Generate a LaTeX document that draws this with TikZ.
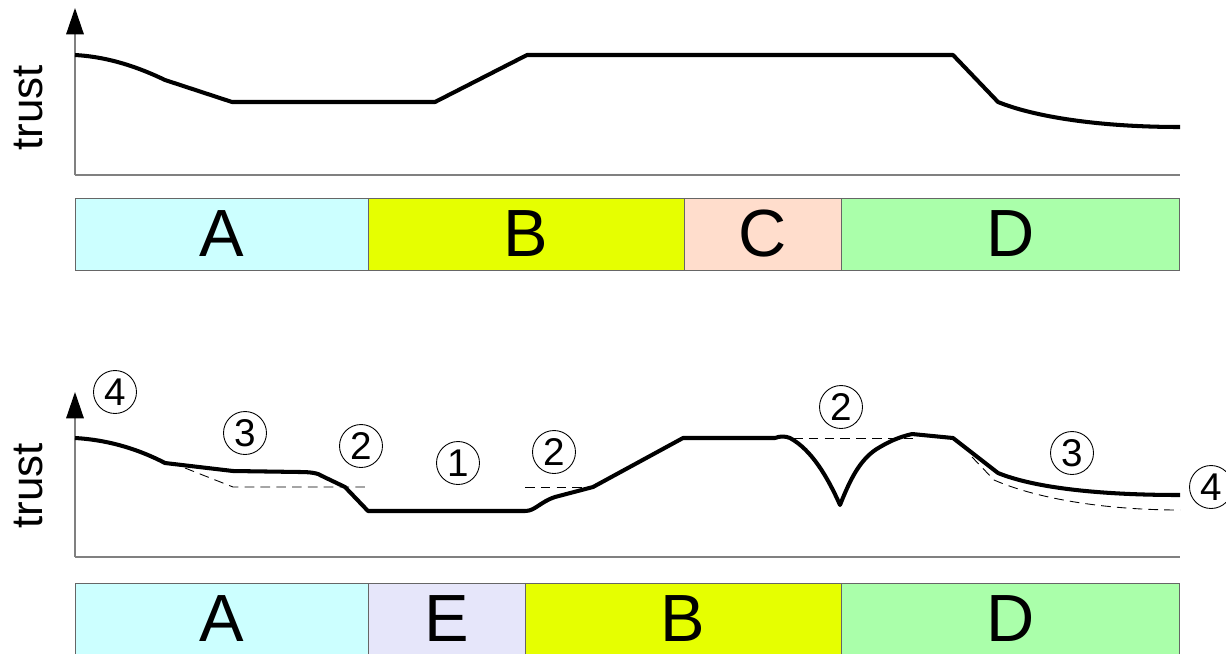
\documentclass[tikz,border=0pt]{standalone}
\usepackage{fontspec}
\setmainfont{Liberation Sans}
\usetikzlibrary{arrows.meta,positioning}
\definecolor{segA}{RGB}{204,255,255}
\definecolor{segB}{RGB}{230,255,0}
\definecolor{segC}{RGB}{255,221,204}
\definecolor{segD}{RGB}{170,255,170}
\definecolor{segE}{RGB}{230,230,250}

\begin{document}
\begin{tikzpicture}[x=0.02cm, y=-0.02cm]

% styles
\tikzset{
  seg/.style={rectangle, draw=black!60, minimum height=1.44cm, inner sep=0pt, outer sep=0pt, font=\fontsize{38}{40}\selectfont},
  yaxis/.style={draw=black!50, line width=0.8pt, -{Triangle[length=15pt, width=10pt, color=black]}},
  xaxis/.style={draw=black!50, line width=0.8pt},
  curve/.style={line width=2.3pt, line join=round},
  guide/.style={line width=0.5pt, dash pattern=on 5.5pt off 3.5pt},
  num/.style={circle, draw, line width=0.5pt, minimum size=0.86cm, inner sep=0pt, font=\fontsize{22}{24}\selectfont},
  ylab/.style={rotate=90, font=\fontsize{25}{28}\selectfont}
}

\useasboundingbox (0,0) rectangle (1226,653);

%==========================
% upper chart
%==========================
\coordinate (o1) at (75,175);
\coordinate (tip1) at (75,8);
\coordinate (end1) at (1180,175);
\draw[xaxis] (o1) -- (end1);
\draw[yaxis] (o1) -- (tip1);
\node[ylab] (trust1) at (29,108) {trust};

\draw[curve] (75,55) .. controls (110,57) and (140,68) .. (165,80) -- (232,102) -- (435,102)
  -- (527,55) -- (953,55) -- (998,102) .. controls (1035,117) and (1100,127) .. (1180,127);

\node[seg, fill=segA, minimum width=5.86cm, anchor=north west] (topA) at (75,198) {A};
\node[seg, fill=segB, minimum width=6.32cm, right=0pt of topA] (topB) {B};
\node[seg, fill=segC, minimum width=3.14cm, right=0pt of topB] (topC) {C};
\node[seg, fill=segD, minimum width=6.78cm, right=0pt of topC] (topD) {D};

%==========================
% lower chart
%==========================
\coordinate (o2) at (75,557);
\coordinate (tip2) at (75,392);
\coordinate (end2) at (1180,557);
\draw[xaxis] (o2) -- (end2);
\draw[yaxis] (o2) -- (tip2);
\node[ylab] (trust2) at (29,486) {trust};

% dashed reference lines
\draw[guide] (185,468) -- (233,487) -- (367,487);
\draw[guide] (525,487) -- (593,487);
\draw[guide] (793,438) -- (913,438);
\draw[guide] (972,457) -- (994,480) .. controls (1040,500) and (1110,510) .. (1180,510);

\draw[curve] (75,438) .. controls (110,440) and (140,450) .. (165,463) -- (233,471) -- (300,472)
  .. controls (310,472) and (318,473) .. (322,476) -- (345,487) -- (368,511) -- (525,511)
  .. controls (535,511) and (540,502) .. (555,497) -- (593,487) -- (683,438) -- (775,438)
  .. controls (780,436) and (785,436) .. (790,438)
  .. controls (812,450) and (828,478) .. (840,505)
  .. controls (850,480) and (860,458) .. (880,447)
  .. controls (892,440) and (900,437) .. (912,434) -- (953,438) -- (998,473)
  .. controls (1035,488) and (1100,495) .. (1180,495);

\node[num] (n4a) at (115,392) {4};
\node[num] (n3a) at (245,433) {3};
\node[num] (n2a) at (361,446) {2};
\node[num] (n1)  at (458,463) {1};
\node[num] (n2b) at (554,452) {2};
\node[num] (n2c) at (841,407) {2};
\node[num] (n3b) at (1072,453) {3};
\node[num] (n4b) at (1211,487) {4};

\node[seg, fill=segA, minimum width=5.86cm, anchor=north west] (botA) at (75,583) {A};
\node[seg, fill=segE, minimum width=3.14cm, right=0pt of botA] (botE) {E};
\node[seg, fill=segB, minimum width=6.32cm, right=0pt of botE] (botB) {B};
\node[seg, fill=segD, minimum width=6.78cm, right=0pt of botB] (botD) {D};

\end{tikzpicture}
\end{document}
